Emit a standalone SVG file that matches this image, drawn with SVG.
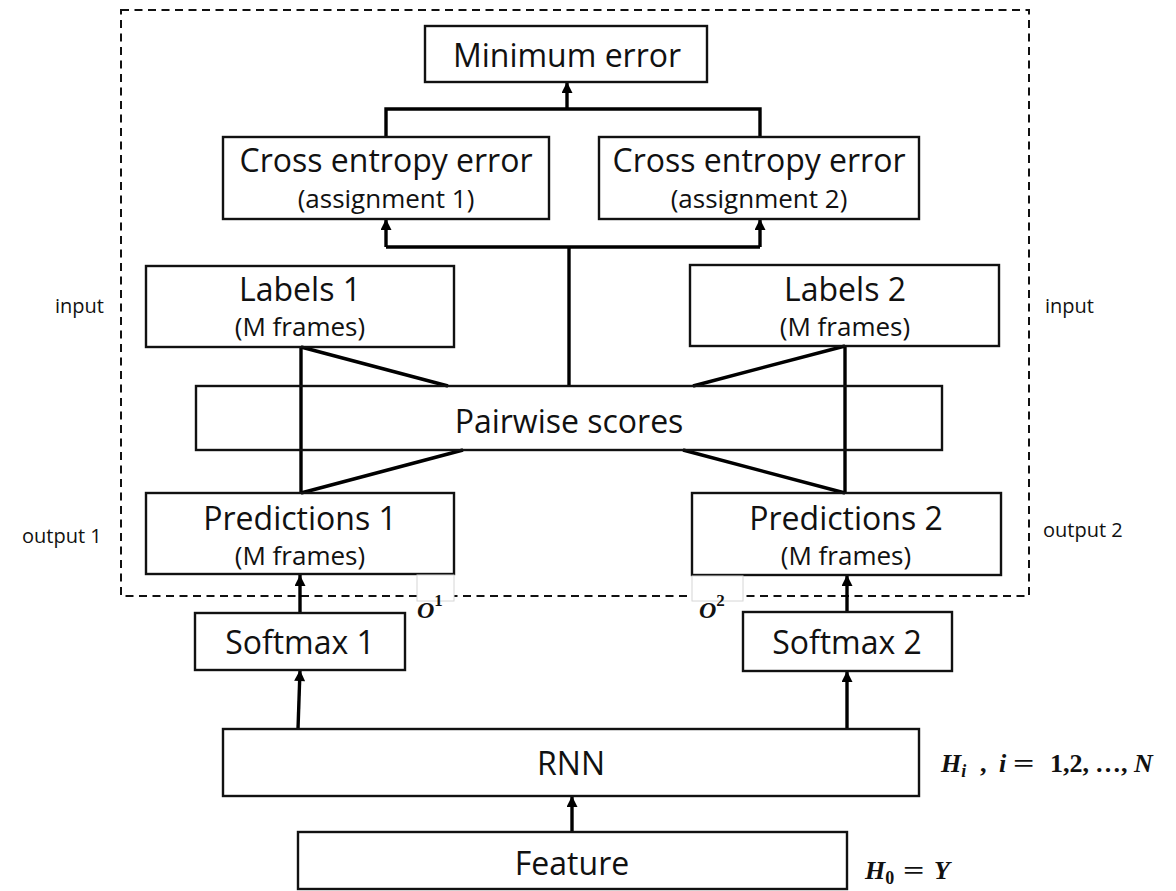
<svg xmlns="http://www.w3.org/2000/svg" width="1176" height="891" viewBox="0 0 1176 891">
<style>
.box{fill:none;stroke:#111;stroke-width:2.4}
.conn{fill:none;stroke:#000;stroke-width:3.4;stroke-linejoin:miter}
.t{font-family:"Open Sans","Noto Sans",sans-serif;font-size:32px;fill:#111;text-anchor:middle}
.s{font-family:"Open Sans","Noto Sans",sans-serif;font-size:26px;fill:#111;text-anchor:middle}
.side{font-family:"Open Sans","Noto Sans",sans-serif;font-size:20px;fill:#111}
.m{font-family:"Liberation Serif","DejaVu Serif",serif;font-weight:bold;fill:#111}
</style>
<defs>
<marker id="ah" viewBox="0 0 10 10" refX="10" refY="5" markerWidth="12" markerHeight="11" markerUnits="userSpaceOnUse" orient="auto">
<path d="M0,0 L10,5 L0,10 z" fill="#000"/>
</marker>
</defs>
<rect width="1176" height="891" fill="#fff"/>
<g id="boundary">
<rect x="121" y="10" width="908" height="586" fill="none" stroke="#111" stroke-width="2" stroke-dasharray="8 5.5"/>
</g>
<g id="connectors">
<polyline class="conn" points="386,137 386,109 760,109 760,137"/>
<line class="conn" x1="567" y1="109" x2="567" y2="82" marker-end="url(#ah)"/>
<polyline class="conn" points="569,386 569,247"/>
<polyline class="conn" points="386,247 760,247"/>
<line class="conn" x1="386" y1="247" x2="386" y2="219" marker-end="url(#ah)"/>
<line class="conn" x1="760" y1="247" x2="760" y2="219" marker-end="url(#ah)"/>
<line class="conn" x1="301" y1="347" x2="301" y2="493"/>
<line class="conn" x1="301" y1="347" x2="448" y2="386"/>
<line class="conn" x1="463" y1="450" x2="301" y2="493"/>
<line class="conn" x1="845" y1="346" x2="845" y2="493"/>
<line class="conn" x1="845" y1="346" x2="693" y2="386"/>
<line class="conn" x1="683" y1="450" x2="845" y2="493"/>
<line class="conn" x1="300" y1="613" x2="300" y2="575" marker-end="url(#ah)"/>
<line class="conn" x1="847" y1="612" x2="847" y2="575" marker-end="url(#ah)"/>
<line class="conn" x1="298" y1="729" x2="300" y2="670" marker-end="url(#ah)"/>
<line class="conn" x1="847" y1="729" x2="847" y2="671" marker-end="url(#ah)"/>
<line class="conn" x1="572" y1="832" x2="572" y2="796" marker-end="url(#ah)"/>
</g>
<g id="min-error">
<rect class="box" x="425" y="26" width="282" height="56"/>
<text class="t" x="567" y="67">Minimum error</text>
</g>
<g id="ce1">
<rect class="box" x="223" y="137" width="326" height="82"/>
<text class="t" x="386" y="172">Cross entropy error</text>
<text class="s" x="386" y="208">(assignment 1)</text>
</g>
<g id="ce2">
<rect class="box" x="599" y="137" width="320" height="82"/>
<text class="t" x="759" y="172">Cross entropy error</text>
<text class="s" x="759" y="208">(assignment 2)</text>
</g>
<g id="labels1">
<rect class="box" x="146" y="266" width="308" height="81"/>
<text class="t" x="300" y="301">Labels 1</text>
<text class="s" x="300" y="336">(M frames)</text>
</g>
<g id="labels2">
<rect class="box" x="690" y="265" width="309" height="81"/>
<text class="t" x="845" y="301">Labels 2</text>
<text class="s" x="845" y="336">(M frames)</text>
</g>
<g id="pairwise">
<rect class="box" x="196" y="386" width="746" height="64"/>
<text class="t" x="569" y="433">Pairwise scores</text>
</g>
<g id="pred1">
<rect class="box" x="146" y="493" width="308" height="81"/>
<text class="t" x="300" y="530">Predictions 1</text>
<text class="s" x="300" y="565">(M frames)</text>
</g>
<g id="pred2">
<rect class="box" x="692" y="493" width="309" height="82"/>
<text class="t" x="846" y="530">Predictions 2</text>
<text class="s" x="846" y="565">(M frames)</text>
</g>
<g id="o1">
<rect x="417" y="575" width="37" height="26" fill="#fff" stroke="#d6d6d6" stroke-width="1"/>
<text class="m" x="417" y="618" font-size="24" font-style="italic">O<tspan font-size="17" font-style="normal" dy="-12">1</tspan></text>
</g>
<g id="o2">
<rect x="692" y="576" width="51" height="25" fill="#fff" stroke="#d6d6d6" stroke-width="1"/>
<text class="m" x="699" y="618" font-size="24" font-style="italic">O<tspan font-size="17" font-style="normal" dy="-12">2</tspan></text>
</g>
<g id="softmax1">
<rect class="box" x="195" y="613" width="210" height="57"/>
<text class="t" x="300" y="654">Softmax 1</text>
</g>
<g id="softmax2">
<rect class="box" x="743" y="612" width="209" height="59"/>
<text class="t" x="847" y="654">Softmax 2</text>
</g>
<g id="rnn">
<rect class="box" x="223" y="729" width="696" height="67"/>
<text class="t" x="571" y="775">RNN</text>
</g>
<g id="feature">
<rect class="box" x="298" y="832" width="549" height="57"/>
<text class="t" x="572" y="875">Feature</text>
</g>
<g id="side-labels">
<text class="side" x="55" y="313">input</text>
<text class="side" x="1045" y="313">input</text>
<text class="side" x="22" y="543">output 1</text>
<text class="side" x="1043" y="537">output 2</text>
</g>
<g id="math">
<text class="m" font-size="26" y="772"><tspan x="941" font-style="italic">H</tspan><tspan font-style="italic" font-size="18" dy="5">i</tspan><tspan dy="-5" x="980">,</tspan><tspan x="999" font-style="italic">i</tspan><tspan x="1050">1,2,</tspan><tspan x="1095">…,</tspan><tspan x="1134" font-style="italic">N</tspan></text>
<text class="m" font-size="26" x="0" y="772" transform="translate(1013 0) scale(1.45 1)">=</text>
<text class="m" font-size="26" y="879"><tspan x="865" font-style="italic">H</tspan><tspan font-size="18" dy="5">0</tspan><tspan dy="-5" x="934" font-style="italic">Y</tspan></text>
<text class="m" font-size="26" x="0" y="879" transform="translate(903 0) scale(1.45 1)">=</text>
</g>
</svg>
